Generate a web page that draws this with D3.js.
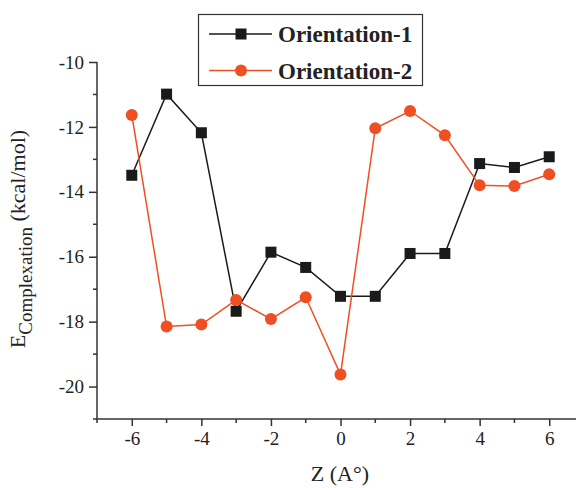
<!DOCTYPE html>
<html><head><meta charset="utf-8">
<script src="https://cdn.jsdelivr.net/npm/d3@7"></script>
<style>body{margin:0;background:#fff}svg{display:block}</style>
</head><body>
<script>
const zValues = [-6,-5,-4,-3,-2,-1,0,1,2,3,4,5,6];
const orientation1 = [-13.49,-10.99,-12.18,-17.68,-15.86,-16.33,-17.22,-17.22,-15.90,-15.90,-13.13,-13.25,-12.92];
const orientation2 = [-11.63,-18.15,-18.09,-17.33,-17.92,-17.25,-19.63,-12.04,-11.51,-12.26,-13.80,-13.82,-13.46];
const xTicks = [-6,-4,-2,0,2,4,6];
const yTicks = [-20,-18,-16,-14,-12,-10];
const seriesNames = ["Orientation-1","Orientation-2"];

const W=576,H=488;
const svg=d3.select("body").append("svg").attr("width",W).attr("height",H);
const x=d3.scaleLinear().domain([-7,6.77]).range([97,576]);
const y=d3.scaleLinear().domain([-21,-10]).range([419,62]);
const axisColor="#333";
const font="'Liberation Serif','Times New Roman',serif";

// x axis
const xg=svg.append("g").attr("transform","translate(0,419)")
  .call(d3.axisBottom(x).tickValues(xTicks).tickSize(7).tickPadding(6).tickFormat(d=>d<0?"-"+Math.abs(d):d));
xg.select(".domain").attr("stroke",axisColor).attr("stroke-width",1.5).attr("d","M97,0H576");
xg.selectAll(".tick line").attr("stroke",axisColor).attr("stroke-width",1.5);
xg.selectAll(".tick text").attr("font-family",font).attr("font-size",19).attr("fill","#222");
xg.selectAll(".minor").data([-7,-5,-3,-1,1,3,5]).enter().append("line")
  .attr("x1",d=>x(d)).attr("x2",d=>x(d)).attr("y1",0).attr("y2",4)
  .attr("stroke",axisColor).attr("stroke-width",1.5);

// y axis
const yg=svg.append("g").attr("transform","translate(97,0)")
  .call(d3.axisLeft(y).tickValues(yTicks).tickSize(8).tickPadding(5).tickFormat(d=>"-"+Math.abs(d)));
yg.select(".domain").attr("stroke",axisColor).attr("stroke-width",1.5).attr("d","M0,62V419");
yg.selectAll(".tick line").attr("stroke",axisColor).attr("stroke-width",1.5);
yg.selectAll(".tick text").attr("font-family",font).attr("font-size",19).attr("fill","#222");
yg.selectAll(".minor").data([-21,-19,-17,-15,-13,-11]).enter().append("line")
  .attr("y1",d=>y(d)).attr("y2",d=>y(d)).attr("x1",0).attr("x2",-4)
  .attr("stroke",axisColor).attr("stroke-width",1.5);

// axis titles
svg.append("text").attr("x",340).attr("y",481).attr("text-anchor","middle")
  .attr("font-family",font).attr("font-size",22).attr("fill","#222").text("Z (A°)");
const yt=svg.append("text").attr("transform","translate(25,239) rotate(-90)").attr("text-anchor","middle")
  .attr("font-family",font).attr("font-size",22).attr("fill","#222");
yt.append("tspan").text("E");
yt.append("tspan").attr("font-size",19).attr("dy",7).text("Complexation");
yt.append("tspan").attr("dy",-7).text(" (kcal/mol)");

const black="#1a1a1a", red="#f04e23";
const line=d3.line().x((d,i)=>x(zValues[i])).y(d=>y(d));

svg.append("path").datum(orientation1).attr("d",line).attr("fill","none").attr("stroke",black).attr("stroke-width",1.5);
svg.selectAll(".sq").data(orientation1).enter().append("rect")
  .attr("x",(d,i)=>x(zValues[i])-5.5).attr("y",d=>y(d)-5.5).attr("width",11).attr("height",11).attr("fill",black);

svg.append("path").datum(orientation2).attr("d",line).attr("fill","none").attr("stroke",red).attr("stroke-width",1.5);
svg.selectAll(".ci").data(orientation2).enter().append("circle")
  .attr("cx",(d,i)=>x(zValues[i])).attr("cy",d=>y(d)).attr("r",6).attr("fill",red);

// legend
const lg=svg.append("g");
lg.append("rect").attr("x",198.5).attr("y",14.5).attr("width",224).attr("height",71)
  .attr("fill","#fff").attr("stroke",axisColor).attr("stroke-width",1.2);
const rows=[{name:seriesNames[0],c:black,m:"sq",y:34},{name:seriesNames[1],c:red,m:"ci",y:70.5}];
rows.forEach(r=>{
  lg.append("line").attr("x1",209).attr("x2",272).attr("y1",r.y).attr("y2",r.y).attr("stroke",r.c).attr("stroke-width",1.5);
  if(r.m==="sq") lg.append("rect").attr("x",235.5).attr("y",r.y-5.5).attr("width",11).attr("height",11).attr("fill",r.c);
  else lg.append("circle").attr("cx",241).attr("cy",r.y).attr("r",6).attr("fill",r.c);
  lg.append("text").attr("x",278).attr("y",r.y+8).attr("font-family",font).attr("font-weight","bold")
    .attr("font-size",23).attr("fill","#222").text(r.name);
});
</script>
</body></html>
